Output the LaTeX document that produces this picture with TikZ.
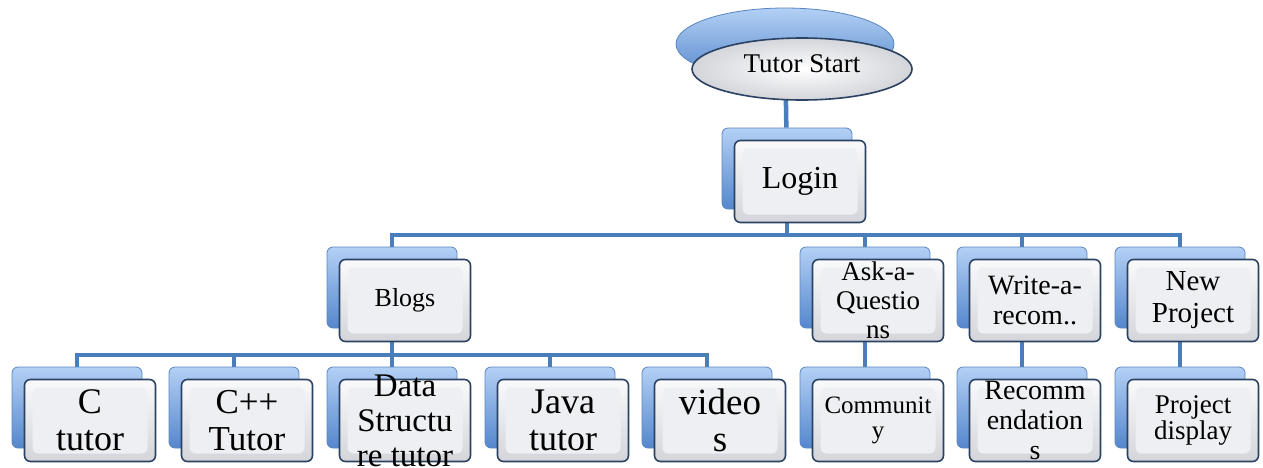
\documentclass[tikz,border=0pt]{standalone}
\usepackage{fontspec}
\setmainfont{Liberation Serif}
\usetikzlibrary{shapes.geometric,backgrounds}
\definecolor{linkblue}{HTML}{4A7EBB}
\definecolor{backtop}{HTML}{B3D0F5}
\definecolor{backbot}{HTML}{5587CC}
\definecolor{backedge}{HTML}{5A86C0}
\definecolor{frontedge}{HTML}{2B4262}
\definecolor{rimtop}{HTML}{FAFAFB}
\definecolor{rimbot}{HTML}{D3D5DA}
\definecolor{frontface}{HTML}{EEEFF2}

% back tile, front tile and its text; x,y is the top left of the back tile
\newcommand{\chartbox}[6]{%
  \node[backbox] (#1b) at (#2+65,#3+40.5) {};
  \node[frontbox] (#1) at (#2+78,#3+53.5) {};
  \node[boxtext,font=\fontsize{#4}{#5}\selectfont] (#1t) at (#1) {#6};
}

\begin{document}
\begin{tikzpicture}[x=1pt,y=-1pt,
  backbox/.style={rectangle, rounded corners=6pt, minimum width=130pt,
    minimum height=81pt, draw=backedge, line width=0.8pt,
    top color=backtop, bottom color=backbot},
  frontbox/.style={rectangle, rounded corners=6pt, minimum width=131pt,
    minimum height=82pt, draw=frontedge, line width=1.6pt,
    top color=rimtop, bottom color=rimbot,
    path picture={\fill[frontface]
      ([shift={(8,8)}]path picture bounding box.north west) rectangle
      ([shift={(-8,-8)}]path picture bounding box.south east);}},
  backoval/.style={ellipse, minimum width=218pt, minimum height=72pt,
    draw=backedge, line width=0.8pt, top color=backtop, bottom color=backbot},
  frontoval/.style={ellipse, minimum width=220pt, minimum height=62pt,
    draw=frontedge, line width=1.6pt, inner color=white, outer color=rimbot},
  boxtext/.style={align=center, inner sep=0pt, text=black},
  link/.style={draw=linkblue, line width=4.5pt}]

  \useasboundingbox (0,0) rectangle (1263,467);

  % start oval
  \node[backoval] (startb) at (785,44) {};
  \node[frontoval] (start) at (802,69) {};
  \node[boxtext, font=\fontsize{27}{29}\selectfont] (startt) at (802,64) {Tutor Start};

  % second level
  \chartbox{login}{722}{128}{32}{34}{Login}

  % third level
  \chartbox{blogs}{327}{247}{26}{28}{Blogs}
  \chartbox{ask}{800}{247}{27}{29}{Ask-a-\\Questio\\ns}
  \chartbox{write}{957}{247}{28}{30}{Write-a-\\recom..}
  \chartbox{newp}{1115}{247}{29}{32}{New\\Project}

  % bottom row
  \chartbox{ctut}{12}{367}{36}{37}{C\\tutor}
  \chartbox{cpp}{169}{367}{35}{37}{C++\\Tutor}
  \chartbox{dstr}{327}{367}{33}{35}{Data\\Structu\\re tutor}
  \chartbox{java}{485}{367}{36}{37}{Java\\tutor}
  \chartbox{vids}{642}{367}{37}{37}{video\\s}
  \chartbox{comm}{800}{367}{25}{25}{Communit\\y}
  \chartbox{recs}{957}{367}{28}{30}{Recomm\\endation\\s}
  \chartbox{pdisp}{1115}{367}{27}{26}{Project\\display}

  % connectors
  \coordinate (topbus) at (0,235);
  \coordinate (lowbus) at (0,355);
  \begin{scope}[on background layer]
    \draw[link] (startb) -- (loginb);
    \foreach \k in {blogs,ask,write,newp}
      \draw[link] (loginb) -- (loginb |- topbus) -| (\k b);
    \foreach \k in {ctut,cpp,dstr,java,vids}
      \draw[link] (blogsb) -- (blogsb |- lowbus) -| (\k b);
    \draw[link] (askb) -- (commb);
    \draw[link] (writeb) -- (recsb);
    \draw[link] (newpb) -- (pdispb);
  \end{scope}
\end{tikzpicture}
\end{document}
